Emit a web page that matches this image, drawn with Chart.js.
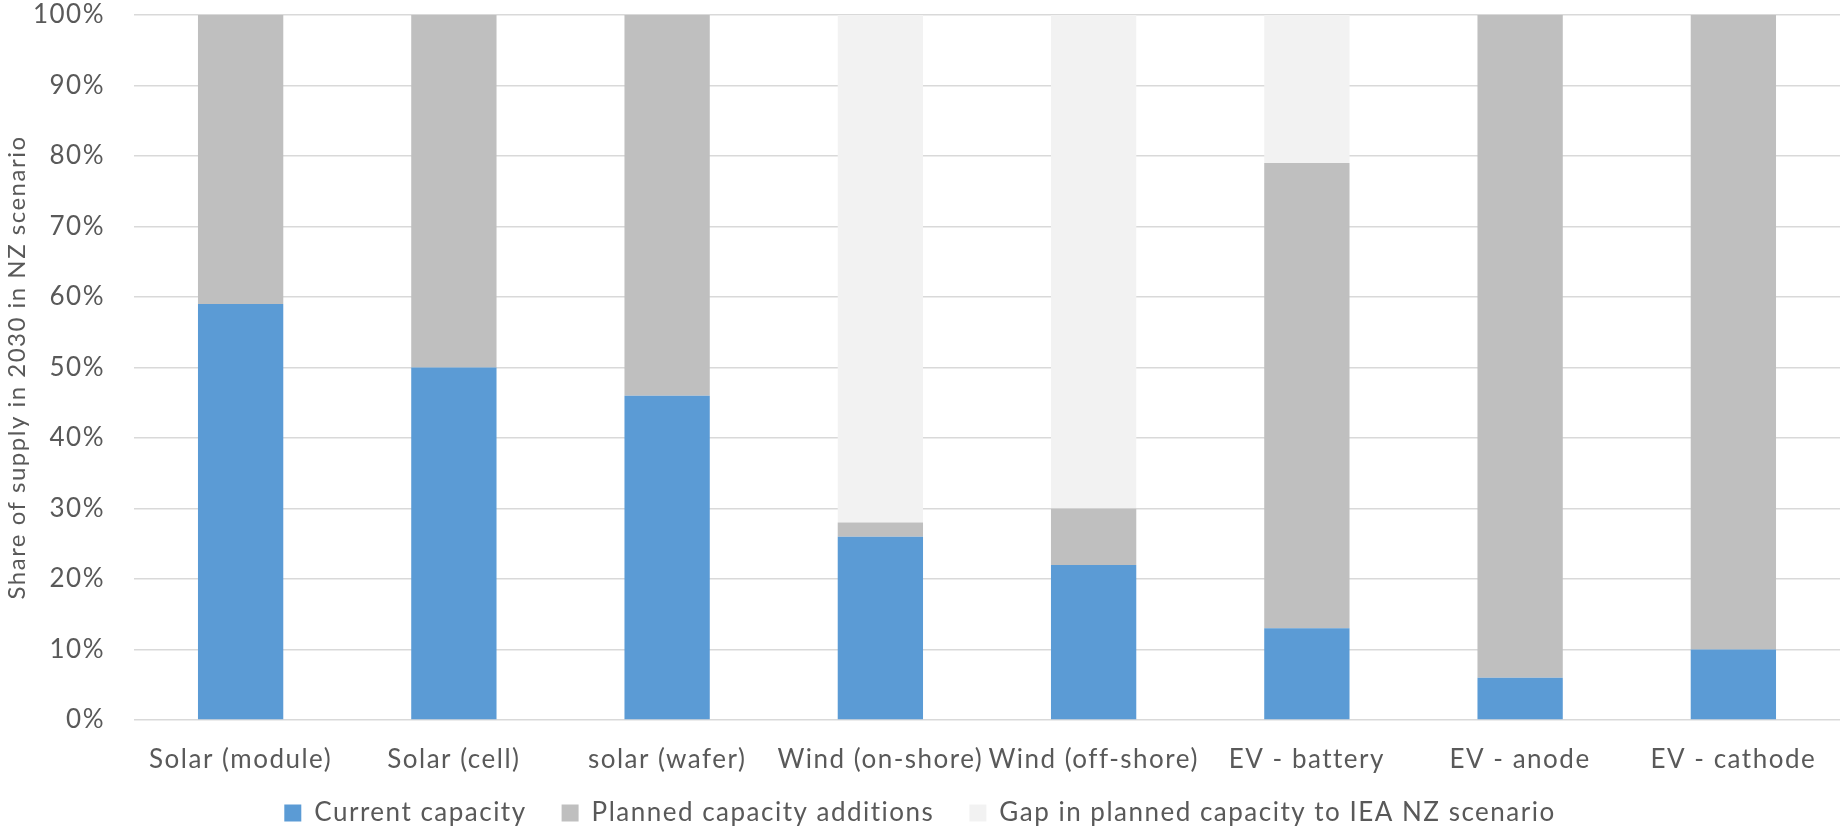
<!DOCTYPE html>
<html>
<head>
<meta charset="utf-8">
<script src="https://cdn.jsdelivr.net/npm/chart.js@4.4.1/dist/chart.umd.min.js"></script>
<style>
  html, body { margin: 0; padding: 0; background: #ffffff; }
  #wrap { width: 1843px; height: 830px; position: relative; }
</style>
</head>
<body>
<div id="wrap"><canvas id="chart"></canvas></div>
<script>
// Supply chain segments
const categories = [
  'Solar (module)', 'Solar (cell)', 'solar (wafer)', 'Wind (on-shore)',
  'Wind (off-shore)', 'EV - battery', 'EV - anode', 'EV - cathode'
];

// Shares of 2030 supply (%)
const currentCapacity = [59, 50, 46, 26, 22, 13, 6, 10];
const plannedAdditions = [41, 50, 54, 2, 8, 66, 94, 90];
const planningGap = [0, 0, 0, 72, 70, 21, 0, 0];

const seriesNames = [
  'Current capacity',
  'Planned capacity additions',
  'Gap in planned capacity to IEA NZ scenario'
];

const yTicks = [0, 10, 20, 30, 40, 50, 60, 70, 80, 90, 100];
const yTitle = 'Share of supply in 2030 in NZ scenario';

const FONT = 'Lato, "Open Sans", sans-serif';
const TEXT = '#595959';

const bar = (label, data, color) => ({
  label, data,
  backgroundColor: color,
  borderWidth: 0,
  categoryPercentage: 1,
  barPercentage: 0.40
});

// Slightly looser tracking for all chart text (applied before measuring and drawing)
const tracking = {
  id: 'tracking',
  beforeLayout(chart) { chart.ctx.letterSpacing = '1.5px'; },
  beforeDraw(chart) { chart.ctx.letterSpacing = '1.5px'; }
};

new Chart(document.getElementById('chart'), {
  type: 'bar',
  plugins: [tracking],
  data: {
    labels: categories,
    datasets: [
      bar(seriesNames[0], currentCapacity, '#5B9BD5'),
      bar(seriesNames[1], plannedAdditions, '#BFBFBF'),
      bar(seriesNames[2], planningGap, '#F2F2F2')
    ]
  },
  options: {
    responsive: true,
    maintainAspectRatio: false,
    animation: false,
    layout: { padding: { top: 15, right: 3, left: 0, bottom: -6 } },
    plugins: {
      tooltip: { enabled: false },
      legend: {
        position: 'bottom',
        labels: {
          font: { family: FONT, size: 26 },
          color: TEXT,
          boxWidth: 17,
          boxHeight: 17,
          padding: 35
        }
      }
    },
    scales: {
      x: {
        stacked: true,
        grid: { display: false },
        border: { display: false },
        ticks: {
          font: { family: FONT, size: 26, lineHeight: 1.0 },
          color: TEXT,
          maxRotation: 0,
          autoSkip: false,
          padding: 19
        },
        afterFit: s => {
          s.height = 45;
          // category labels may extend a little below the compact axis box
          s._computeLabelArea = () => undefined;
        }
      },
      y: {
        stacked: true,
        min: 0,
        max: 100,
        afterBuildTicks: s => { s.ticks = yTicks.map(v => ({ value: v })); },
        grid: {
          color: '#D9D9D9',
          lineWidth: 1.5,
          drawTicks: true,
          tickLength: 29,
          tickColor: 'rgba(0,0,0,0)'
        },
        border: { display: false },
        ticks: {
          font: { family: FONT, size: 26, lineHeight: 1.1 },
          color: TEXT,
          padding: 0,
          callback: v => v + '%'
        },
        title: {
          display: true,
          text: yTitle,
          font: { family: FONT, size: 24 },
          color: TEXT,
          padding: { top: 3, bottom: 0 }
        },
        afterFit: s => { s.width = 134; }
      }
    }
  }
});
</script>
</body>
</html>
